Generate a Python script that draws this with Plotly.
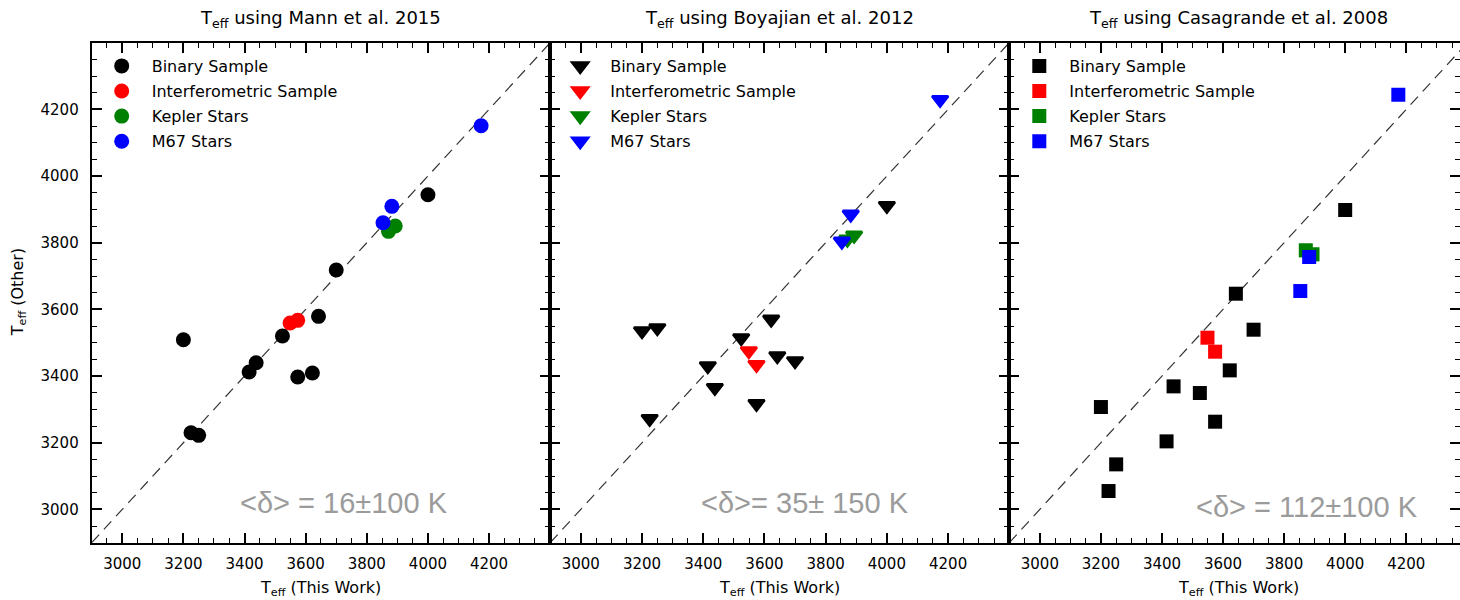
import plotly.graph_objects as go

# ---------------- data ----------------
# T_eff (This Work) for each group of stars
binary_x = [3200, 3225, 3250, 3415, 3438, 3524, 3574, 3622, 3642, 3700, 4000]
interf_x = [3549, 3574]
kepler_x = [3871, 3893]
m67_x = [3853, 3882, 4174]

# T_eff (Other): Mann et al. 2015
mann_binary = [3509, 3230, 3222, 3412, 3440, 3520, 3397, 3409, 3579, 3718, 3944]
mann_interf = [3559, 3567]
mann_kepler = [3834, 3850]
mann_m67 = [3860, 3909, 4151]

# T_eff (Other): Boyajian et al. 2012
boy_binary = [3535, 3272, 3544, 3430, 3365, 3514, 3317, 3570, 3460, 3445, 3911]
boy_interf = [3475, 3434]
boy_kepler = [3810, 3822]
boy_m67 = [3804, 3885, 4229]

# T_eff (Other): Casagrande et al. 2008
cas_binary = [3307, 3055, 3135, 3204, 3369, 3349, 3263, 3417, 3647, 3539, 3898]
cas_interf = [3515, 3473]
cas_kepler = [3777, 3765]
cas_m67 = [3655, 3757, 4244]

group_names = ["Binary Sample", "Interferometric Sample", "Kepler Stars", "M67 Stars"]
group_colors = ["black", "red", "green", "blue"]

panel_titles = ["T<sub>eff</sub> using Mann et al. 2015",
                "T<sub>eff</sub> using Boyajian et al. 2012",
                "T<sub>eff</sub> using Casagrande et al. 2008"]
panel_stats = ["&lt;δ&gt; = 16±100 K", "&lt;δ&gt;= 35± 150 K", "&lt;δ&gt; = 112±100 K"]

one_to_one = [2900, 4400]
tick_vals = [3000, 3200, 3400, 3600, 3800, 4000, 4200]
tick_text = ["3000", "3200", "3400", "3600", "3800", "4000", "4200"]

# ---------------- layout geometry ----------------
W, H = 1460, 600
x_px = [(91.7, 550.2), (550.2, 1009.3), (1009.3, 1460.0)]
y_top, y_bot = 42.7, 542.7
x_ranges = [[2900, 4400], [2900, 4400], [2900, 4376]]

panels = [
    ("circle", 15, 0, [mann_binary, mann_interf, mann_kepler, mann_m67]),
    ("triangle-down", 14, 2.5, [boy_binary, boy_interf, boy_kepler, boy_m67]),
    ("square", 14, 0, [cas_binary, cas_interf, cas_kepler, cas_m67]),
]
xs_groups = [binary_x, interf_x, kepler_x, m67_x]

fig = go.Figure()

for i, (sym, size, lw, ys_groups) in enumerate(panels):
    xa = "x" if i == 0 else f"x{i+1}"
    ya = "y" if i == 0 else f"y{i+1}"
    lg = "legend" if i == 0 else f"legend{i+1}"
    # 1:1 line
    fig.add_trace(go.Scatter(x=one_to_one, y=one_to_one, mode="lines",
                             line=dict(color="rgba(0,0,0,0.8)", width=1.2, dash="11px,7px"),
                             showlegend=False, hoverinfo="skip", xaxis=xa, yaxis=ya))
    for name, color, xs, ys in zip(group_names, group_colors, xs_groups, ys_groups):
        fig.add_trace(go.Scatter(x=xs, y=ys, mode="markers", name=name,
                                 legendgroup=f"{name}-{i}",
                                 marker=dict(symbol=sym, size=size, color=color,
                                             line=dict(width=lw, color=color)),
                                 xaxis=xa, yaxis=ya, legend=lg))

tickfont = dict(family="DejaVu Sans", size=15, color="black")

def axis_common():
    return dict(
        tickmode="array", tickvals=tick_vals, ticktext=tick_text,
        ticks="inside", ticklen=10, tickwidth=1.6, tickcolor="black",
        showline=True, linewidth=2, linecolor="black", mirror="allticks",
        showgrid=False, zeroline=False, automargin=False,
        minor=dict(tickmode="linear", tick0=2900, dtick=50, ticks="inside",
                   ticklen=5, tickwidth=1.3, tickcolor="black"),
        tickfont=tickfont,
    )

layout = dict(
    width=W, height=H, autosize=False,
    margin=dict(l=0, r=0, t=0, b=0, pad=0),
    paper_bgcolor="white", plot_bgcolor="white",
    font=dict(family="DejaVu Sans", color="black"),
)
ydom = [1 - y_bot / H, 1 - y_top / H]
for i in range(3):
    xk = "xaxis" if i == 0 else f"xaxis{i+1}"
    yk = "yaxis" if i == 0 else f"yaxis{i+1}"
    xa = dict(axis_common())
    xa.update(domain=[x_px[i][0] / W, x_px[i][1] / W], range=x_ranges[i],
              anchor="y" if i == 0 else f"y{i+1}", ticklabelstandoff=6)
    ya = dict(axis_common())
    ya.update(domain=ydom, range=[2900, 4400],
              anchor="x" if i == 0 else f"x{i+1}",
              showticklabels=(i == 0), ticklabelstandoff=8)
    layout[xk] = xa
    layout[yk] = ya
    lk = "legend" if i == 0 else f"legend{i+1}"
    layout[lk] = dict(x=(x_px[i][0] + 0) / W, y=1 - 49 / H, xanchor="left", yanchor="top",
                      bgcolor="rgba(0,0,0,0)", borderwidth=0,
                      font=dict(family="DejaVu Sans", size=16, color="black"),
                      itemwidth=50, tracegroupgap=1.3)

fig.update_layout(**layout)

annotations = []
stat_pos = [(3725, 3020), (3731, 3019), (3875, 3007)]
for i in range(3):
    xa = "x" if i == 0 else f"x{i+1}"
    ya = "y" if i == 0 else f"y{i+1}"
    cx = (x_px[i][0] + x_px[i][1]) / 2 if i < 2 else (x_px[i][0] + x_px[i][0] + 458.5) / 2
    annotations.append(dict(text=panel_titles[i], x=cx / W, y=1 - 18.5 / H, xref="paper", yref="paper",
                            showarrow=False, xanchor="center", yanchor="middle",
                            font=dict(family="DejaVu Sans", size=18, color="black")))
    annotations.append(dict(text="T<sub>eff</sub> (This Work)", x=cx / W, y=1 - 588 / H,
                            xref="paper", yref="paper", showarrow=False,
                            xanchor="center", yanchor="middle",
                            font=dict(family="DejaVu Sans", size=16, color="black")))
    annotations.append(dict(text=panel_stats[i], x=stat_pos[i][0], y=stat_pos[i][1],
                            xref=xa, yref=ya, showarrow=False, xanchor="center", yanchor="middle",
                            font=dict(family="Liberation Sans", size=29, color="#9b9b9b")))
annotations.append(dict(text="T<sub>eff</sub> (Other)", x=18.5 / W, y=1 - 292.7 / H,
                        xref="paper", yref="paper", showarrow=False, textangle=-90,
                        xanchor="center", yanchor="middle",
                        font=dict(family="DejaVu Sans", size=16, color="black")))
fig.update_layout(annotations=annotations)

fig.write_html("out.html")
